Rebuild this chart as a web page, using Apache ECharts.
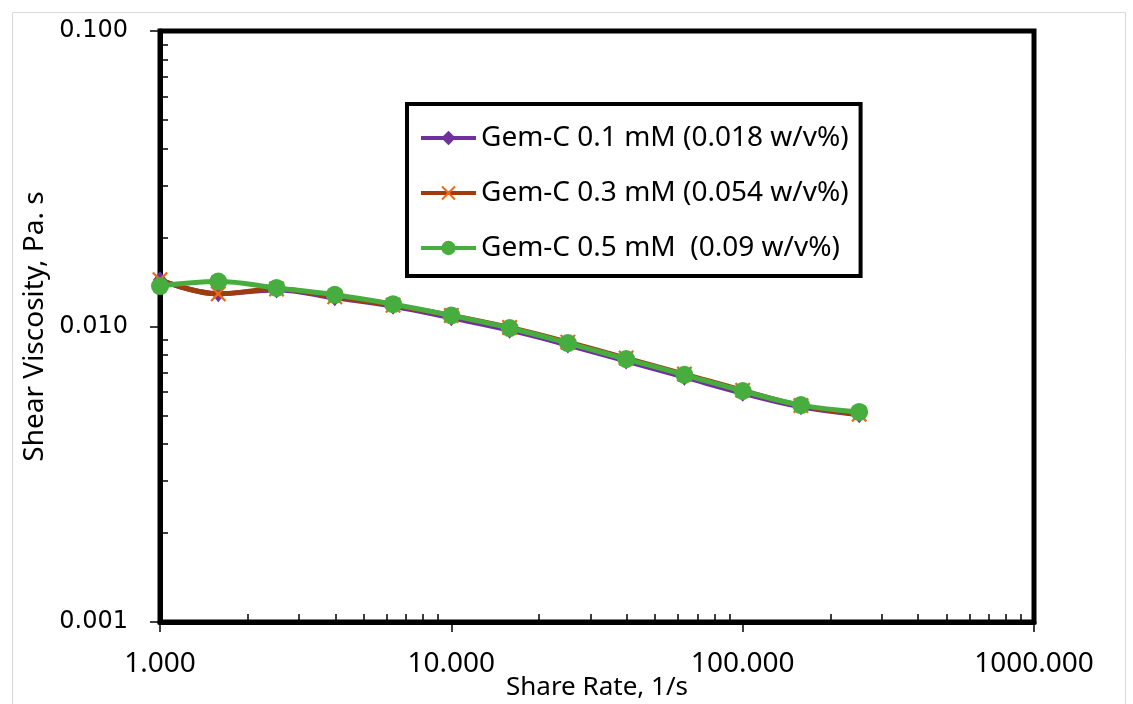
<!DOCTYPE html>
<html>
<head>
<meta charset="utf-8">
<style>
  html, body { margin: 0; padding: 0; background: #fff; }
  #main { width: 1133px; height: 704px; }
</style>
<script src="https://cdn.jsdelivr.net/npm/echarts@6/dist/echarts.min.js"></script>
</head>
<body>
<div id="main"></div>
<script>
// shear rate (1/s), 5 points per decade
var shearRate = [1, 1.585, 2.512, 3.981, 6.310, 10, 15.85, 25.12, 39.81, 63.10, 100, 158.5, 251.2];
// shear viscosity (Pa.s)
var gem01 = [0.0144, 0.0129, 0.0133, 0.0125, 0.0117, 0.0107, 0.00972, 0.00866, 0.00764, 0.00674, 0.00595, 0.00535, 0.00503];
var gem03 = [0.0144, 0.0129, 0.0134, 0.0126, 0.0118, 0.0109, 0.00992, 0.00885, 0.00782, 0.00690, 0.00608, 0.00540, 0.00505];
var gem05 = [0.0137, 0.0142, 0.0135, 0.0128, 0.0119, 0.0109, 0.00988, 0.00879, 0.00776, 0.00686, 0.00605, 0.00542, 0.00514];
var seriesNames = [
  "Gem-C 0.1 mM (0.018 w/v%)",
  "Gem-C 0.3 mM (0.054 w/v%)",
  "Gem-C 0.5 mM  (0.09 w/v%)"
];
// minor tick positions (in decades) for the inner ticks
var minorMult = [2, 3, 4, 5, 6, 7, 8, 9];
var xDecades = [0, 1, 2];
var yDecades = [-3, -2];

function minorTicks(decades) {
  var out = [];
  decades.forEach(function (d) {
    minorMult.forEach(function (m) {
      out.push(d + Math.log10(m));
    });
  });
  return out;
}

function pairs(ys) {
  return shearRate.map(function (x, i) { return [x, ys[i]]; });
}

var crossPath = "path://M0,1 L1,0 L5,4 L9,0 L10,1 L6,5 L10,9 L9,10 L5,6 L1,10 L0,9 L4,5 Z";

var chart = echarts.init(document.getElementById("main"));
var option = {
  backgroundColor: "#fff",
  animation: false,
  graphic: [{
    type: "rect",
    left: 10, top: 10,
    shape: { width: 1113, height: 700 },
    style: { fill: "none", stroke: "#d9d9d9", lineWidth: 1 },
    z: -10
  }],
  grid: {
    left: 160, top: 31, right: 99, bottom: 82,
    outerBoundsMode: "none",
    show: true,
    borderColor: "#000",
    borderWidth: 5,
    z: 1
  },
  legend: {
    orient: "vertical",
    left: 407,
    top: 104,
    padding: [20, 12, 14, 12],
    itemGap: 27,
    itemWidth: 55,
    itemHeight: 18,
    backgroundColor: "#fff",
    borderColor: "#000",
    borderWidth: 4,
    lineStyle: { width: 4 },
    textStyle: { fontFamily: "Noto Sans", fontSize: 28, color: "#000" },
    data: seriesNames
  },
  xAxis: [{
    type: "log",
    logBase: 10,
    min: 1,
    max: 1000,
    name: "Share Rate, 1/s",
    nameLocation: "middle",
    nameGap: 53,
    nameMoveOverlap: false,
    nameTextStyle: { fontFamily: "Noto Sans", fontSize: 26, color: "#000" },
    axisLine: { show: true, lineStyle: { color: "#000", width: 5 } },
    axisTick: { show: true, inside: false, length: 10, lineStyle: { color: "#000", width: 1.5 } },
    axisLabel: {
      margin: 28,
      fontFamily: "Noto Sans",
      fontSize: 28,
      color: "#000",
      formatter: function (v) { return Number(v).toFixed(3); }
    },
    splitLine: { show: false }
  }, {
    type: "value",
    min: 0,
    max: 3,
    position: "bottom",
    axisLine: { show: false },
    axisLabel: { show: false },
    splitLine: { show: false },
    axisTick: {
      show: true,
      inside: true,
      length: 8,
      customValues: minorTicks(xDecades),
      lineStyle: { color: "#000", width: 1.5 }
    }
  }],
  yAxis: [{
    type: "log",
    logBase: 10,
    min: 0.001,
    max: 0.1,
    name: "Shear Viscosity, Pa. s",
    nameLocation: "middle",
    nameGap: 111,
    nameMoveOverlap: false,
    nameTextStyle: { fontFamily: "Noto Sans", fontSize: 28, color: "#000" },
    axisLine: { show: true, lineStyle: { color: "#000", width: 5 } },
    axisTick: { show: true, inside: false, length: 10, lineStyle: { color: "#000", width: 1.5 } },
    axisLabel: {
      margin: 32,
      fontFamily: "DejaVu Sans",
      fontSize: 24,
      color: "#000",
      formatter: function (v) { return Number(v).toFixed(3); }
    },
    splitLine: { show: false }
  }, {
    type: "value",
    min: -3,
    max: -1,
    position: "left",
    axisLine: { show: false },
    axisLabel: { show: false },
    splitLine: { show: false },
    axisTick: {
      show: true,
      inside: true,
      length: 8,
      customValues: minorTicks(yDecades),
      lineStyle: { color: "#000", width: 1.5 }
    }
  }],
  series: [{
    name: seriesNames[0],
    type: "line",
    smooth: 0.4,
    data: pairs(gem01),
    symbol: "diamond",
    symbolSize: [14, 17],
    lineStyle: { color: "#7030A0", width: 5 },
    itemStyle: { color: "#7030A0" },
    z: 3
  }, {
    name: seriesNames[1],
    type: "line",
    smooth: 0.4,
    data: pairs(gem03),
    symbol: crossPath,
    symbolSize: 16,
    lineStyle: { color: "#9E3D0B", width: 5 },
    itemStyle: { color: "#EE6A1A" },
    z: 4
  }, {
    name: seriesNames[2],
    type: "line",
    smooth: 0.4,
    data: pairs(gem05),
    symbol: "circle",
    symbolSize: 18,
    lineStyle: { color: "#47AD3E", width: 5 },
    itemStyle: { color: "#47AD3E" },
    z: 5
  }]
};
chart.setOption(option);
window.addEventListener("resize", function () { chart.resize(); });
</script>
</body>
</html>
